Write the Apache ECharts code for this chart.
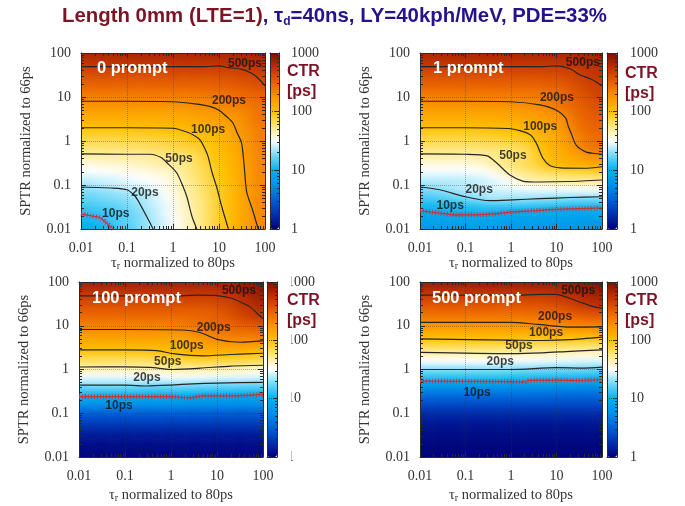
<!DOCTYPE html>
<html><head><meta charset="utf-8">
<style>html,body{margin:0;padding:0;background:#fff}#c{width:685px;height:506px}</style>
<script src="https://cdn.jsdelivr.net/npm/echarts@6/dist/echarts.min.js"></script>
</head><body>
<svg width="0" height="0" style="position:absolute"><filter id="soft" x="0" y="0" width="100%" height="100%" color-interpolation-filters="sRGB"><feGaussianBlur stdDeviation="5 2.6"/></filter></svg>
<div id="c"></div>
<script>
// log10(CTR/ps) x 100, rows from SPTR=100 (top) to 0.01 (bottom), columns from tau_r=0.01 to 100
const heat0 = [
[282,282,282,282,282,282,282,282,282,282,282,282,282,283,283,285],
[276,276,276,276,276,276,276,276,276,276,276,276,277,277,279,280],
[270,270,270,270,270,270,270,270,270,270,270,270,271,271,273,275],
[263,263,263,263,263,263,263,263,263,263,263,264,264,266,268,270],
[257,257,257,257,257,257,257,257,257,257,257,258,258,260,262,264],
[251,251,251,251,251,251,251,251,251,251,252,252,254,256,258,261],
[245,245,245,245,245,245,245,245,245,245,246,248,248,250,252,257],
[238,238,238,238,238,238,238,238,238,239,239,241,243,245,248,250],
[232,232,232,232,232,232,232,232,233,233,235,235,237,242,244,247],
[226,226,226,226,226,226,226,226,227,227,229,231,233,236,238,243],
[219,219,219,219,219,219,219,220,220,222,224,226,229,231,235,243],
[213,213,213,213,213,213,213,214,214,216,218,220,223,225,232,241],
[207,207,207,207,207,207,208,208,210,212,214,217,219,223,232,241],
[201,201,201,201,201,202,202,204,204,206,208,213,216,220,230,238],
[194,194,194,194,195,195,195,197,199,201,204,206,212,220,227,236],
[188,188,188,188,189,189,191,191,193,198,200,203,209,218,227,236],
[182,182,182,183,183,185,185,187,189,192,194,201,207,215,225,234],
[176,176,177,177,177,179,181,183,186,188,191,198,207,215,225,234],
[169,169,170,170,172,172,174,176,179,181,187,196,204,213,223,232],
[162,163,163,165,165,167,169,172,174,179,187,196,202,211,223,232],
[155,156,158,158,160,162,165,167,170,176,185,193,202,211,221,232],
[150,150,152,154,156,156,159,161,168,176,182,191,200,211,221,232],
[143,145,145,147,149,152,154,157,165,174,182,191,200,209,221,231],
[137,139,141,143,146,148,151,154,163,171,180,189,200,208,220,231],
[133,135,137,140,142,142,147,154,163,171,178,189,197,208,220,231],
[126,128,130,133,135,138,144,152,160,169,178,187,198,209,220,231],
[122,124,127,129,132,135,142,149,158,167,176,186,197,208,220,231],
[117,120,122,125,129,135,142,147,158,167,175,186,197,208,220,231],
[111,114,116,121,126,133,139,147,156,165,175,186,197,208,220,231],
[108,110,113,118,124,130,139,147,156,164,175,186,197,208,220,231],
[104,106,112,118,124,130,137,145,153,164,175,186,197,208,220,231],
[100,102,109,116,121,130,137,145,153,164,175,186,197,208,220,231]];
const heat1 = [
[282,282,282,282,282,282,282,282,282,282,282,282,282,283,284,285],
[276,276,276,276,276,276,276,276,276,276,276,276,276,277,279,281],
[270,270,270,270,270,270,270,270,270,270,270,270,271,272,275,278],
[263,263,263,263,263,263,263,263,263,263,263,264,265,267,271,274],
[257,257,257,257,257,257,257,257,257,257,257,258,260,264,268,272],
[251,251,251,251,251,251,251,251,251,251,252,253,255,260,265,270],
[245,245,245,245,245,245,245,245,245,245,246,248,250,256,262,268],
[238,238,238,238,238,238,238,238,238,239,240,243,247,253,259,265],
[232,232,232,232,232,232,232,232,233,234,236,239,244,250,256,262],
[226,226,226,226,226,226,226,227,228,229,230,236,242,248,254,259],
[219,219,219,219,219,219,219,220,221,223,226,229,237,245,251,257],
[213,213,213,213,213,213,214,215,216,218,221,225,229,242,249,254],
[207,207,207,207,207,207,208,209,210,213,217,220,226,238,247,252],
[201,201,201,201,201,201,202,203,205,208,213,217,224,236,245,250],
[194,194,194,194,194,194,196,197,199,200,209,214,222,233,243,248],
[188,188,188,188,188,189,190,191,193,197,203,211,219,228,240,245],
[182,182,182,182,182,183,184,185,187,191,201,209,216,226,238,243],
[176,176,176,176,176,177,178,179,181,186,198,206,213,222,235,240],
[169,169,169,169,169,170,172,174,177,182,195,204,211,218,226,230],
[162,162,162,162,163,164,171,175,179,184,193,203,208,213,218,222],
[155,155,155,155,156,158,165,172,178,183,189,199,205,207,209,212],
[149,149,149,149,150,152,156,165,173,178,182,186,188,190,192,194],
[142,142,142,142,143,145,149,156,164,169,172,175,176,177,178,179],
[136,136,136,137,138,140,143,148,156,165,167,168,169,169,170,171],
[130,132,135,138,140,142,144,146,148,150,151,152,152,153,153,154],
[123,125,128,131,134,136,138,139,140,140,141,141,142,142,143,143],
[115,117,120,124,128,132,135,135,134,133,131,130,128,127,127,127],
[107,107,108,110,113,116,118,118,118,117,116,115,114,113,112,112],
[102,103,104,105,105,106,106,105,104,103,103,102,101,100,99,99],
[94,95,97,98,99,99,98,97,96,95,94,93,92,92,91,91],
[89,90,91,91,92,92,91,90,89,88,88,87,86,86,85,85],
[83,84,84,85,85,85,85,84,83,83,82,82,81,81,80,80]];
const heat2 = [
[285,285,285,285,285,285,285,285,285,285,285,285,286,288,292,296],
[277,277,277,277,277,277,277,277,277,277,277,277,279,282,287,292],
[270,270,270,270,270,270,270,270,270,270,270,270,272,276,282,288],
[264,264,264,264,264,264,264,264,264,264,264,264,266,271,278,284],
[257,257,257,257,257,257,257,257,257,257,257,258,261,266,274,280],
[251,251,251,251,251,251,251,251,251,251,251,252,256,262,269,275],
[244,244,244,244,244,244,244,244,244,245,247,250,252,258,265,270],
[238,238,238,238,238,238,238,238,239,241,244,247,250,252,256,260],
[231,231,231,231,231,231,231,231,232,234,237,241,244,246,249,252],
[223,223,223,223,223,223,223,223,224,227,231,235,238,239,240,241],
[216,216,216,216,216,216,216,216,217,220,224,228,231,232,232,233],
[208,208,208,208,208,208,208,208,209,212,216,219,221,222,222,222],
[200,200,200,200,200,200,200,203,206,208,211,213,213,212,210,209],
[190,190,190,190,190,190,191,193,196,198,200,200,199,198,196,195],
[180,180,180,180,180,180,181,183,186,187,188,188,187,186,185,184],
[170,170,170,170,170,170,171,172,175,175,175,174,173,171,168,166],
[158,158,158,158,158,158,158,160,162,162,161,160,159,158,157,155],
[146,146,146,146,146,146,146,148,148,148,147,146,145,145,144,143],
[134,134,134,134,134,134,132,134,134,133,132,131,130,129,129,128],
[120,120,120,120,120,119,118,119,119,118,117,116,116,116,115,115],
[105,105,105,105,105,104,104,104,104,103,103,102,102,102,101,101],
[88,88,88,88,88,88,88,88,88,87,87,87,86,86,85,85],
[75,75,75,75,75,75,75,75,75,75,74,74,74,73,73,73],
[58,58,58,58,58,58,58,58,58,58,58,58,57,57,57,57],
[45,45,45,45,45,45,45,45,45,45,45,45,45,45,45,45],
[35,35,35,35,35,35,35,35,35,35,35,35,35,35,35,35],
[25,25,25,25,25,25,25,25,25,25,25,25,25,25,25,25],
[17,17,17,17,17,17,17,17,17,17,17,17,17,17,17,17],
[12,12,12,12,12,12,12,12,12,12,12,12,12,12,12,12],
[8,8,8,8,8,8,8,8,8,8,8,8,8,8,8,8],
[5,5,5,5,5,5,5,5,5,5,5,5,5,5,5,5],
[3,3,3,3,3,3,3,3,3,3,3,3,3,3,3,3]];
const heat3 = [
[288,288,288,288,288,288,288,288,288,288,288,288,289,291,294,296],
[278,278,278,278,278,278,278,278,278,278,278,279,281,284,288,291],
[270,270,270,270,270,270,270,270,270,270,270,272,275,278,283,286],
[262,262,262,262,262,262,262,262,262,262,263,265,268,272,277,280],
[254,254,254,254,254,254,254,254,254,254,255,257,260,265,270,274],
[246,246,246,246,246,246,246,246,246,247,248,250,253,257,260,262],
[238,238,238,238,238,238,238,238,238,239,240,242,245,247,250,251],
[229,229,229,229,229,229,229,229,229,230,231,233,235,237,238,239],
[218,218,218,218,218,218,218,218,219,220,221,223,224,226,226,227],
[209,209,209,209,209,209,209,209,209,210,210,210,211,211,212,212],
[199,199,199,199,199,199,199,198,197,196,196,196,196,196,196,196],
[187,187,187,187,187,187,187,186,185,184,184,184,183,183,182,182],
[175,175,175,175,175,175,175,174,172,172,172,172,171,170,170,169],
[161,161,161,161,161,161,161,160,159,159,158,158,157,157,156,156],
[150,150,150,150,150,150,150,149,148,148,147,147,146,145,145,144],
[136,136,136,136,136,136,136,135,134,134,133,133,132,132,131,131],
[123,123,123,123,123,123,123,122,121,121,120,120,119,119,118,117],
[109,109,109,109,109,109,109,108,107,107,106,106,105,105,104,104],
[92,92,92,92,92,92,92,91,91,90,90,89,89,89,88,88],
[74,74,74,74,74,74,74,74,73,73,72,72,71,71,70,70],
[60,60,60,60,60,60,60,60,60,59,59,59,58,58,58,58],
[48,48,48,48,48,48,48,48,48,48,48,48,47,47,47,47],
[38,38,38,38,38,38,38,38,38,38,38,38,38,38,38,38],
[28,28,28,28,28,28,28,28,28,28,28,28,28,28,28,28],
[20,20,20,20,20,20,20,20,20,20,20,20,20,20,20,20],
[14,14,14,14,14,14,14,14,14,14,14,14,14,14,14,14],
[10,10,10,10,10,10,10,10,10,10,10,10,10,10,10,10],
[7,7,7,7,7,7,7,7,7,7,7,7,7,7,7,7],
[5,5,5,5,5,5,5,5,5,5,5,5,5,5,5,5],
[3,3,3,3,3,3,3,3,3,3,3,3,3,3,3,3],
[2,2,2,2,2,2,2,2,2,2,2,2,2,2,2,2],
[1,1,1,1,1,1,1,1,1,1,1,1,1,1,1,1]];

// contour lines: [tau_r, SPTR]
const lines0 = {
 '500ps':[[.01,49],[.1,49],[1,49],[5,49],[10,51],[15,47],[30,43],[50,35],[70,27],[100,18]],
 '200ps':[[.01,8],[.1,8],[1,7.8],[3,7],[6,6.2],[10,5],[15,3.5],[20,2.6],[25,1.5],[31,.9],[35,.3],[40,.07],[55,.025],[71,.01]],
 '100ps':[[.01,2],[.1,2],[1,1.95],[2,1.6],[3,1.3],[3.9,1.05],[5,.65],[5.8,.44],[7,.2],[8.9,.09],[11.5,.032],[16,.01]],
 '50ps':[[.01,.51],[.1,.5],[.32,.5],[.55,.42],[.74,.32],[1.2,.19],[1.6,.1],[2,.054],[2.6,.019],[3.3,.01]],
 '20ps':[[.01,.09],[.05,.085],[.1,.078],[.14,.06],[.17,.046],[.27,.019],[.37,.01]]};
const red0 = [[.01,.022],[.016,.02],[.026,.018],[.035,.014],[.05,.01]];
const lines1 = {
 '500ps':[[.01,49],[.1,49],[1,49],[5,49],[10,51],[20,44],[32,32],[55,26],[75,22],[100,18]],
 '200ps':[[.01,8],[.1,8],[1,7.8],[4.3,6.6],[10,5],[16,3.3],[18,2.2],[21,1.5],[27,.81],[45,.56],[70,.52],[100,.5]],
 '100ps':[[.01,2],[.1,2],[1,1.9],[2.6,1.4],[3.6,.89],[5,.41],[7,.28],[12,.245],[40,.24],[100,.26]],
 '50ps':[[.01,.51],[.1,.5],[.3,.46],[.48,.32],[.93,.17],[1.8,.123],[4.3,.117],[20,.12],[100,.13]],
 '20ps':[[.01,.09],[.027,.078],[.1,.054],[.34,.044],[1.1,.046],[4.3,.049],[20,.052],[100,.054]]};
const red1 = [[.01,.026],[.027,.023],[.06,.021],[.15,.021],[.4,.022],[1.1,.0245],[3,.026],[10,.028],[100,.03]];
const lines2 = {
 '500ps':[[.01,48],[1,48],[4,50],[10,49],[20,43],[32,35],[52,27],[75,19],[100,14.6]],
 '200ps':[[.01,8.2],[.1,8.2],[1.8,8],[4.3,7],[10,4.9],[32,4.2],[100,4.5]],
 '100ps':[[.01,2.8],[.1,2.8],[.5,2.7],[1.1,2.3],[5,2.05],[20,2.2],[100,2.35]],
 '50ps':[[.01,1.14],[.1,1.15],[.35,1.12],[1.1,1],[4.3,1.07],[20,1.2],[100,1.25]],
 '20ps':[[.01,.44],[.1,.44],[.3,.42],[1,.44],[3,.47],[10,.49],[100,.51]]};
const red2 = [[.01,.24],[1,.24],[2.5,.225],[5,.25],[20,.25],[100,.27]];
const lines3 = {
 '500ps':[[.01,50],[1,50],[5,52],[10,52],[20,42],[32,35],[60,28],[100,25]],
 '200ps':[[.01,12],[1,12],[4,10.7],[20,9.3],[100,9.4]],
 '100ps':[[.01,5],[1,4.7],[5,4.6],[20,4.8],[100,5.5]],
 '50ps':[[.01,2.45],[1,2.3],[5,2.4],[20,2.6],[100,2.8]],
 '20ps':[[.01,1],[1,1],[10,1.1],[40,1.08],[100,1.13]]};
const red3 = [[.01,.54],[1,.53],[2,.52],[2.3,.56],[10,.57],[30,.56],[100,.59]];

// contour label anchors: [tau_r, SPTR]
const labelNames = ['500ps','200ps','100ps','50ps','20ps','10ps'];
const labels0 = [[36.7,56],[16.5,8.1],[5.8,1.78],[1.35,.39],[.245,.066],[.057,.022]];
const labels1 = [[38,59],[10.2,9.5],[4.4,2.1],[1.1,.46],[.2,.078],[.046,.033]];
const labels2 = [[30,62],[8.5,8.9],[2.2,3.5],[.85,1.5],[.3,.65],[.074,.148]];
const labels3 = [[30,62],[9.3,16],[5.9,6.8],[1.5,3.5],[.58,1.5],[.18,.29]];

const panelTitles = ['0 prompt','1 prompt','100 prompt','500 prompt'];
const heats = [heat0,heat1,heat2,heat3];
const lineSets = [lines0,lines1,lines2,lines3];
const reds = [red0,red1,red2,red3];
const labelSets = [labels0,labels1,labels2,labels3];

const rects = [[81,53,184,176],[420,53,182,176],[79,282,184,175],[420,282,182,175]];
const bars = [[270,53,9,176],[607,53,10,176],[267,282,10,175],[607,282,10,175]];
const titlePos = [[97,60],[433,60],[92,290],[432,290]];
const ctrPos = [[287,71],[625,73],[287,300],[625,300]];
const barMargin = [12,13,10,13];
const xNameGap = [26,26,30,30];
const serif = '"Liberation Serif","DejaVu Serif",serif';
const sans = '"Liberation Sans",Arial,sans-serif';
const palette = ['#000078','#0030b0','#0060d8','#0090e8','#00b0f0','#70d8f8','#ffffff','#ffe880','#ffc000','#fb9400','#e86000','#c03000','#7a1000'];
const ink = '#2a2a2a', red = '#c8323c', maroon = '#7d1426';
const pad = 2; // colour cells repeated beyond each plot edge so that the softened layer has no pale fringe

const grid=[],xAxis=[],yAxis=[],series=[],visualMap=[],graphic=[];
const axisTextBase = {fontFamily:serif,fontSize:14,color:'#333'};
const hiddenCat = (g,d)=>({type:'category',gridIndex:g,data:d,show:false});

rects.forEach((rc,i)=>{
  const rows=heats[i], nr=rows.length, nc=rows[0].length;
  const cw=rc[2]/nc, ch=rc[3]/nr;
  const gh=grid.length;
  grid.push({left:rc[0]-pad*cw,top:rc[1]-pad*ch,width:rc[2]+2*pad*cw,height:rc[3]+2*pad*ch});
  const cats=n=>Array.from({length:n},(_,k)=>String(k));
  const xc=xAxis.length,yc=yAxis.length;
  xAxis.push(hiddenCat(gh,cats(nc+2*pad)));
  yAxis.push(hiddenCat(gh,cats(nr+2*pad)));
  const data=[];
  for(let r=-pad;r<nr+pad;r++)for(let c=-pad;c<nc+pad;c++){
    const v=rows[Math.min(nr-1,Math.max(0,r))][Math.min(nc-1,Math.max(0,c))];
    data.push([c+pad,nr-1-r+pad,v]);
  }
  const heatIndex=series.length;
  series.push({type:'heatmap',xAxisIndex:xc,yAxisIndex:yc,data,silent:true,zlevel:-1,progressive:0,animation:false});

  const g=grid.length;
  grid.push({left:rc[0],top:rc[1],width:rc[2],height:rc[3]});
  const logBase={type:'log',logBase:10,gridIndex:g,min:.01,max:100,z:4,
    axisLine:{show:true,onZero:false,lineStyle:{color:ink,width:1}},
    axisTick:{show:true,inside:true,length:5,lineStyle:{color:ink}},
    minorTick:{show:true,splitNumber:9,length:3,lineStyle:{color:ink}},
    splitLine:{show:false},axisLabel:{show:false}};
  const gridLine={show:true,lineStyle:{type:'dotted',color:'rgba(50,50,50,0.38)',width:1}};
  xAxis.push(Object.assign({},logBase,{position:'top'}));
  yAxis.push(Object.assign({},logBase,{position:'right'}));
  xAxis.push(Object.assign({},logBase,{position:'bottom',splitLine:gridLine,axisLabel:Object.assign({show:true,margin:12},axisTextBase),
    name:'{a|τ}{s|r}{a| normalized to 80ps}',nameLocation:'middle',nameGap:xNameGap[i],
    nameTextStyle:{rich:{a:{fontFamily:serif,fontSize:14.5,color:'#333'},s:{fontFamily:serif,fontSize:10,color:'#333',padding:[6,0,0,0]}}}}));
  yAxis.push(Object.assign({},logBase,{position:'left',splitLine:gridLine,axisLabel:Object.assign({show:true,margin:10},axisTextBase),
    name:'SPTR normalized to 66ps',nameLocation:'middle',nameGap:47,
    nameTextStyle:{fontFamily:serif,fontSize:14.5,color:'#333'}}));
  const xl=xAxis.length-1, yl=yAxis.length-1;
  Object.keys(lineSets[i]).forEach(k=>{
    series.push({type:'line',name:k,xAxisIndex:xl,yAxisIndex:yl,data:lineSets[i][k],showSymbol:false,smooth:.25,silent:true,z:5,animation:false,
      lineStyle:{color:'#262626',width:1.2},clip:true});
  });
  series.push({type:'line',name:'10ps',xAxisIndex:xl,yAxisIndex:yl,data:reds[i],showSymbol:false,smooth:.25,silent:true,z:5,animation:false,lineStyle:{color:red,width:1.2}});
  series.push({type:'line',name:'10ps hatch',xAxisIndex:xl,yAxisIndex:yl,data:reds[i],showSymbol:false,smooth:.25,silent:true,z:5,animation:false,
    lineStyle:{color:red,width:5,type:[1,2],cap:'butt',opacity:.85}});
  series.push({type:'scatter',xAxisIndex:xl,yAxisIndex:yl,symbolSize:0,silent:true,z:6,animation:false,clip:false,
    data:labelSets[i].map((p,n)=>({name:labelNames[n],value:p})),
    label:{show:true,position:'inside',formatter:'{b}',fontFamily:sans,fontWeight:'bold',fontSize:12,color:'#141414'}});
  const b=bars[i], gb=grid.length;
  grid.push({left:b[0],top:b[1],width:b[2],height:b[3]});
  const plain=(pos)=>({type:'value',gridIndex:gb,position:pos,min:0,max:1,z:6,axisLine:{show:true,onZero:false,lineStyle:{color:ink}},axisTick:{show:false},axisLabel:{show:false},splitLine:{show:false}});
  xAxis.push(plain('top'));
  xAxis.push(plain('bottom'));
  yAxis.push({type:'log',logBase:10,gridIndex:gb,position:'right',min:1,max:1000,z:6,
    axisLine:{show:true,onZero:false,lineStyle:{color:ink}},
    axisTick:{show:true,inside:true,length:4,lineStyle:{color:ink}},
    minorTick:{show:true,splitNumber:9,length:2,lineStyle:{color:ink}},
    splitLine:{show:true,lineStyle:{type:'dotted',color:'rgba(30,30,30,.7)'}},
    axisLabel:Object.assign({margin:barMargin[i],formatter:v=>String(Math.round(v))},axisTextBase)});
  yAxis.push(plain('left'));
  visualMap.push({type:'continuous',seriesIndex:heatIndex,min:0,max:300,calculable:false,realtime:false,hoverLink:false,left:b[0],top:b[1],itemWidth:b[2],itemHeight:b[3],padding:0,text:null,z:1,orient:'vertical',inRange:{color:palette},textStyle:{color:'transparent',fontSize:1}});
  graphic.push({type:'text',left:titlePos[i][0],top:titlePos[i][1],z:20,silent:true,style:{text:panelTitles[i],fill:'#fff',font:'bold 16.5px '+sans}});
  graphic.push({type:'text',left:ctrPos[i][0],top:ctrPos[i][1]-9,z:20,silent:true,style:{text:'CTR\n[ps]',fill:maroon,font:'bold 16px '+sans,lineHeight:20}});
});
graphic.push({type:'rect',shape:{x:283,y:276,width:8,height:190},style:{fill:'#fff'},z:15,silent:true});

const chart=echarts.init(document.getElementById('c'),null,{renderer:'canvas'});
chart.setOption({
  animation:false,backgroundColor:'#fff',
  title:{left:57,top:-1,text:'{a|Length 0mm (LTE=1)}{b|, τ}{s|d}{b|=40ns, LY=40kph/MeV, PDE=33%}',
    textStyle:{rich:{
      a:{fontFamily:sans,fontWeight:'bold',fontSize:20.4,color:maroon},
      b:{fontFamily:sans,fontWeight:'bold',fontSize:20.4,color:'#24128e'},
      s:{fontFamily:sans,fontWeight:'bold',fontSize:12,color:'#24128e',padding:[12,0,0,0]}}}},
  grid,xAxis,yAxis,series,visualMap,graphic
});
// soften the colour-cell layer only, keeping it inside the plot frames
const layer=chart.getDom().querySelector('canvas');
layer.style.filter='url(#soft)';
layer.style.clipPath="path('"+rects.map(r=>`M${r[0]} ${r[1]}h${r[2]}v${r[3]}h${-r[2]}z`).join(' ')+"')";
</script></body></html>
